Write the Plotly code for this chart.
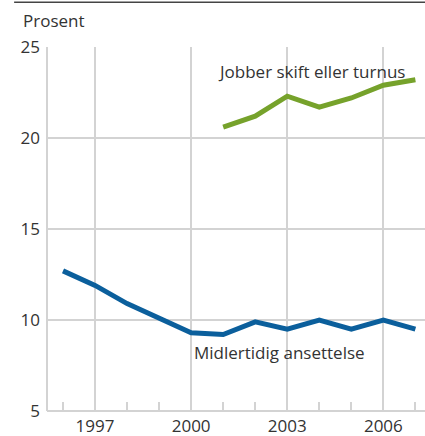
import plotly.graph_objects as go

years_blue = [1996, 1997, 1998, 1999, 2000, 2001, 2002, 2003, 2004, 2005, 2006, 2007]
midlertidig = [12.7, 11.9, 10.9, 10.1, 9.3, 9.2, 9.9, 9.5, 10.0, 9.5, 10.0, 9.5]
years_green = [2001, 2002, 2003, 2004, 2005, 2006, 2007]
skift = [20.6, 21.2, 22.3, 21.7, 22.2, 22.9, 23.2]
x_ticks = [1997, 2000, 2003, 2006]
y_ticks = [5, 10, 15, 20, 25]

BLUE = "#0b5f9c"
GREEN = "#76a22b"
GRID = "#d3d3d3"
TXT = "#333333"
FONT = "Open Sans"
FS = 17

fig = go.Figure()
fig.add_trace(go.Scatter(x=years_blue, y=midlertidig, mode="lines",
                         line=dict(color=BLUE, width=5), hoverinfo="skip"))
fig.add_trace(go.Scatter(x=years_green, y=skift, mode="lines",
                         line=dict(color=GREEN, width=5), hoverinfo="skip"))

fig.update_layout(
    width=425, height=436,
    margin=dict(l=47, r=0, t=47, b=25),
    paper_bgcolor="white", plot_bgcolor="white",
    showlegend=False,
    font=dict(family=FONT, size=FS, color=TXT),
    xaxis=dict(range=[1995.5, 2007.3], tickvals=x_ticks, showgrid=True,
               gridcolor=GRID, gridwidth=2, zeroline=False, automargin=False,
               showline=False, ticks="", ticklabelstandoff=3,
               tickfont=dict(size=FS, color=TXT),
               minor=dict(tickvals=list(range(1996, 2008)), ticks="inside",
                          ticklen=9, tickcolor=GRID, tickwidth=2, showgrid=False)),
    yaxis=dict(range=[5, 25], tickvals=y_ticks, showgrid=True,
               gridcolor=GRID, gridwidth=2, zeroline=False, automargin=False,
               showline=False, ticks="", ticklabelstandoff=6,
               tickfont=dict(size=FS, color=TXT)),
)
# axis lines (left and bottom)
fig.add_shape(type="line", xref="paper", yref="paper", x0=0, x1=0, y0=0, y1=1,
              line=dict(color=GRID, width=2))
fig.add_shape(type="line", xref="paper", yref="paper", x0=0, x1=1, y0=0, y1=0,
              line=dict(color=GRID, width=2))
# top rule
fig.add_shape(type="line", xref="paper", yref="paper", x0=-0.087, x1=1.0,
              y0=1.123, y1=1.123, line=dict(color="#444444", width=1.5))

fig.add_annotation(xref="paper", yref="paper", x=-0.068, y=1.074, xanchor="left",
                   yanchor="middle", text="Prosent", showarrow=False,
                   font=dict(size=FS, color=TXT))
fig.add_annotation(x=2003.75, y=23.63, text="Jobber skift eller turnus",
                   showarrow=False, font=dict(size=FS, color=TXT))
fig.add_annotation(x=2002.75, y=8.19, text="Midlertidig ansettelse",
                   showarrow=False, font=dict(size=FS, color=TXT))

fig.write_html("out.html", post_script="document.body.style.margin='0';",
               config={"displayModeBar": False})
